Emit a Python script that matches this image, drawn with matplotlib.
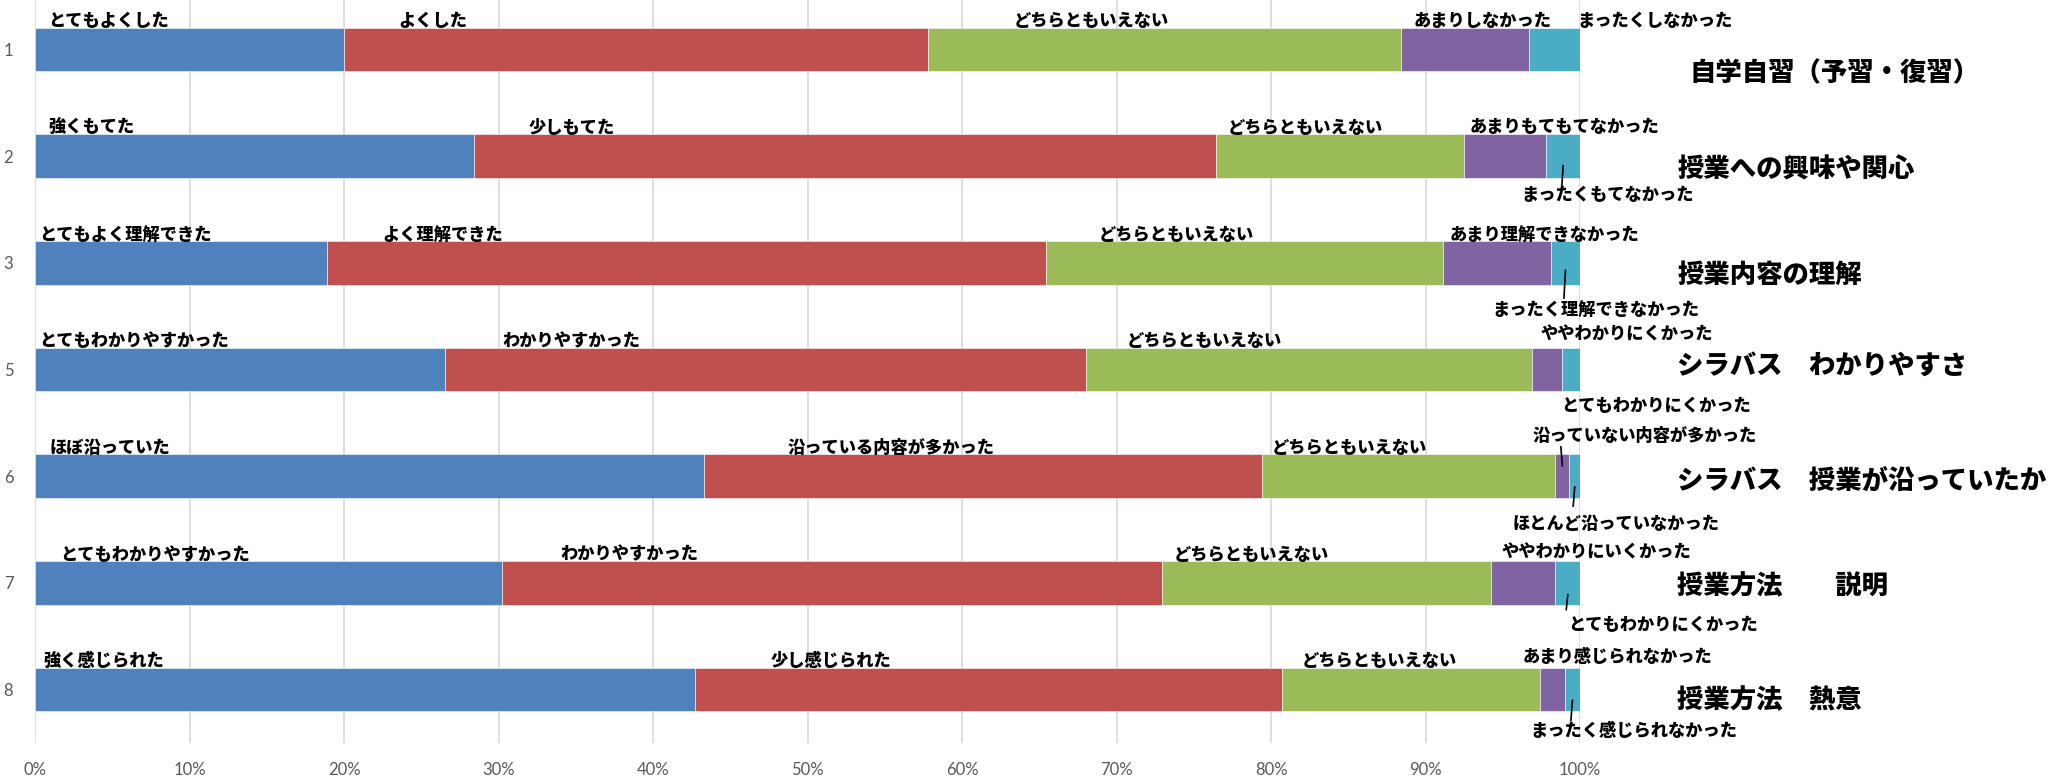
import matplotlib.pyplot as plt
import numpy as np

plt.rcParams["font.family"] = ["Noto Sans CJK JP", "DejaVu Sans"]

rows = ["1", "2", "3", "5", "6", "7", "8"]
titles = [
    "自学自習（予習・復習）",
    "授業への興味や関心",
    "授業内容の理解",
    "シラバス　わかりやすさ",
    "シラバス　授業が沿っていたか",
    "授業方法　　説明",
    "授業方法　熱意",
]
blue = [20.0, 28.4, 18.9, 26.5, 43.3, 30.2, 42.7]
red = [37.8, 48.0, 46.5, 41.5, 36.1, 42.7, 38.0]
green = [30.6, 16.1, 25.7, 28.9, 19.0, 21.3, 16.7]
purple = [8.3, 5.3, 7.0, 1.9, 0.9, 4.2, 1.6]
cyan = [3.3, 2.2, 1.9, 1.2, 0.7, 1.6, 1.0]

labels = [
    ["とてもよくした", "よくした", "どちらともいえない", "あまりしなかった", "まったくしなかった"],
    ["強くもてた", "少しもてた", "どちらともいえない", "あまりもてもてなかった", "まったくもてなかった"],
    ["とてもよく理解できた", "よく理解できた", "どちらともいえない", "あまり理解できなかった", "まったく理解できなかった"],
    ["とてもわかりやすかった", "わかりやすかった", "どちらともいえない", "ややわかりにくかった", "とてもわかりにくかった"],
    ["ほぼ沿っていた", "沿っている内容が多かった", "どちらともいえない", "沿っていない内容が多かった", "ほとんど沿っていなかった"],
    ["とてもわかりやすかった", "わかりやすかった", "どちらともいえない", "ややわかりにいくかった", "とてもわかりにくかった"],
    ["強く感じられた", "少し感じられた", "どちらともいえない", "あまり感じられなかった", "まったく感じられなかった"],
]

# label placement (x in %, vertical offset in row units)
label_x = [
    [0.85, 23.5, 63.35, 89.2, 99.8],
    [0.85, 31.9, 77.2, 92.86, 96.17],
    [0.26, 22.45, 68.8, 91.55, 94.3],
    [0.26, 30.2, 70.66, 97.45, 98.8],
    [0.94, 48.7, 80.0, 96.94, 95.6],
    [1.6, 34.0, 73.7, 94.9, 99.2],
    [0.5, 47.6, 82.0, 96.3, 96.76],
]
label_dy = [
    [-0.265, -0.265, -0.265, -0.265, -0.265],
    [-0.265, -0.265, -0.265, -0.27, 0.36],
    [-0.265, -0.265, -0.265, -0.265, 0.44],
    [-0.265, -0.265, -0.265, -0.33, 0.34],
    [-0.265, -0.265, -0.265, -0.38, 0.45],
    [-0.265, -0.265, -0.265, -0.29, 0.39],
    [-0.265, -0.265, -0.265, -0.31, 0.39],
]
# leader lines: (row, segment, y start, y end)
leaders = [(1, 4, 0.09, 0.31), (2, 4, 0.07, 0.33), (4, 3, -0.1, -0.275),
           (4, 4, 0.1, 0.28), (5, 4, 0.11, 0.25), (6, 4, 0.1, 0.29)]
title_dy = [0.22, 0.12, 0.11, -0.04, 0.04, 0.03, 0.1]

colors = ["#4F81BD", "#C0504D", "#9BBB59", "#8064A2", "#4BACC6"]

fig = plt.figure(figsize=(20.59, 7.77), dpi=100)
ax = fig.add_axes([0.01724, 0.0438, 0.7502, 0.9612])

series = np.array([blue, red, green, purple, cyan])
ypos = np.arange(len(rows))
left = np.zeros(len(rows))
for vals, c in zip(series, colors):
    ax.barh(ypos, vals, left=left, height=0.41, color=c,
            edgecolor="white", linewidth=0.4, zorder=2)
    left = left + vals

starts = np.vstack([np.zeros(len(rows)), np.cumsum(series, axis=0)[:-1]])
for r, seg, y0, y1 in leaders:
    xc = starts[seg, r] + series[seg, r] / 2
    ax.plot([xc, xc - 0.1], [r + y0, r + y1], color="black", lw=1.2, zorder=3)

for r in range(len(rows)):
    for k in range(5):
        ax.text(label_x[r][k], r + label_dy[r][k], labels[r][k], fontsize=12.4,
                fontweight="heavy", va="center", ha="left", zorder=4)
    ax.text(106.3 if r else 107.05, r + title_dy[r], titles[r], fontsize=19,
            fontweight="heavy", va="center", ha="left", clip_on=False)

ax.set_xlim(0, 100)
ax.set_ylim(len(rows) - 0.5, -0.5)
ax.set_xticks(np.arange(0, 101, 10))
ax.set_xticklabels([f"{v}%" for v in range(0, 101, 10)])
ax.set_yticks(ypos)
ax.set_yticklabels(rows)
ax.tick_params(length=0, labelcolor="#595959", labelsize=12)
ax.tick_params(axis="x", pad=14)
ax.tick_params(axis="y", pad=16)
for lab in ax.get_xticklabels() + ax.get_yticklabels():
    lab.set_family(["Lato", "DejaVu Sans"])
ax.grid(axis="x", color="#d9d9d9", lw=1.2, zorder=0)
ax.set_axisbelow(True)
for s in ax.spines.values():
    s.set_visible(False)

fig.savefig("out.png", dpi=100)
